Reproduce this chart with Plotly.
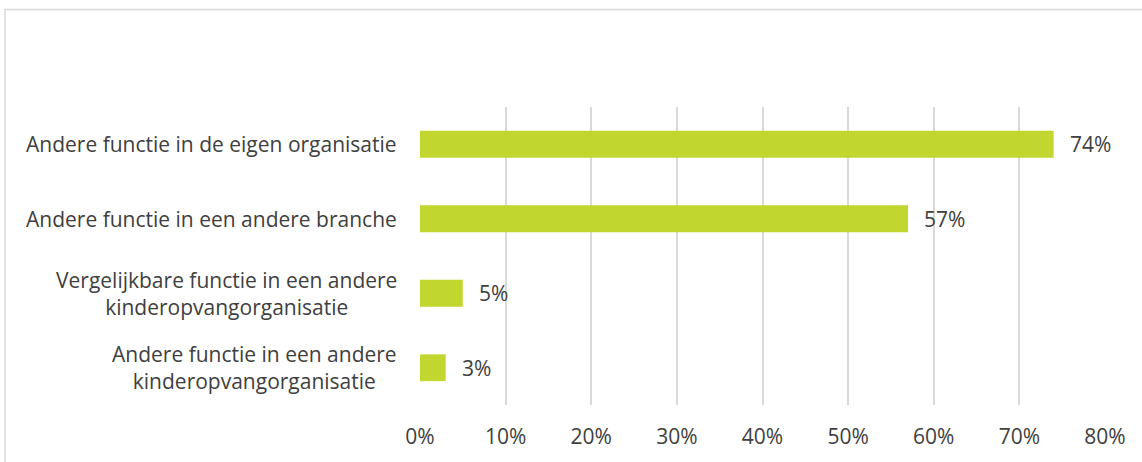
import plotly.graph_objects as go

# Categories (top to bottom) and their shares in percent
categories = [
    "Andere functie in de eigen organisatie",
    "Andere functie in een andere branche",
    "Vergelijkbare functie in een andere<br>kinderopvangorganisatie",
    "Andere functie in een andere<br>kinderopvangorganisatie",
]
values = [74, 57, 5, 3]
tick_values = [0, 10, 20, 30, 40, 50, 60, 70, 80]
tick_labels = [f"{v}%" for v in tick_values]

BAR_COLOR = "#C1D62F"
TEXT_COLOR = "#404040"
GRID_COLOR = "#D9D9D9"
FONT = "Open Sans"
FSIZE = 21

W, H = 1142, 462
ML, MR, MT, MB = 420, 37, 107, 57

fig = go.Figure()
fig.add_trace(go.Bar(
    x=values,
    y=categories,
    orientation="h",
    marker=dict(color=BAR_COLOR, line=dict(width=0)),
    width=0.36,
    hoverinfo="skip",
))

# Value labels to the right of each bar
for cat, val in zip(categories, values):
    fig.add_annotation(
        x=val, y=cat, xref="x", yref="y",
        text=f"{val}%", showarrow=False,
        xanchor="left", yanchor="middle", xshift=14,
        font=dict(family=FONT, size=FSIZE, color=TEXT_COLOR),
    )

# Category labels, centred line-by-line and right-aligned against the axis
for cat in categories:
    fig.add_annotation(
        x=0, y=cat, xref="x", yref="y",
        text=cat, showarrow=False,
        xanchor="right", yanchor="middle", align="center",
        xshift=-21,
        font=dict(family=FONT, size=FSIZE, color=TEXT_COLOR),
    )

# Light frame around the chart area
pw, ph = W - ML - MR, H - MT - MB
fig.add_shape(
    type="rect", xref="paper", yref="paper",
    x0=(5 - ML) / pw, x1=(W + 20 - ML) / pw,
    y0=-(MB + 20) / ph, y1=1 + (MT - 9.5) / ph,
    line=dict(color=GRID_COLOR, width=1.5), fillcolor="rgba(0,0,0,0)",
    layer="below",
)

fig.update_layout(
    width=W, height=H,
    margin=dict(l=ML, r=MR, t=MT, b=MB),
    paper_bgcolor="white", plot_bgcolor="white",
    showlegend=False,
    xaxis=dict(
        range=[0, 80],
        tickvals=tick_values, ticktext=tick_labels,
        showgrid=True, gridcolor=GRID_COLOR, gridwidth=1.5,
        zeroline=False, showline=False,
        ticks="", ticklabelstandoff=17,
        tickfont=dict(family=FONT, size=FSIZE, color=TEXT_COLOR),
        fixedrange=True,
    ),
    yaxis=dict(
        autorange="reversed",
        showticklabels=False, showgrid=False, zeroline=False, showline=False,
        ticks="", fixedrange=True,
    ),
)

fig.write_html("out.html")
